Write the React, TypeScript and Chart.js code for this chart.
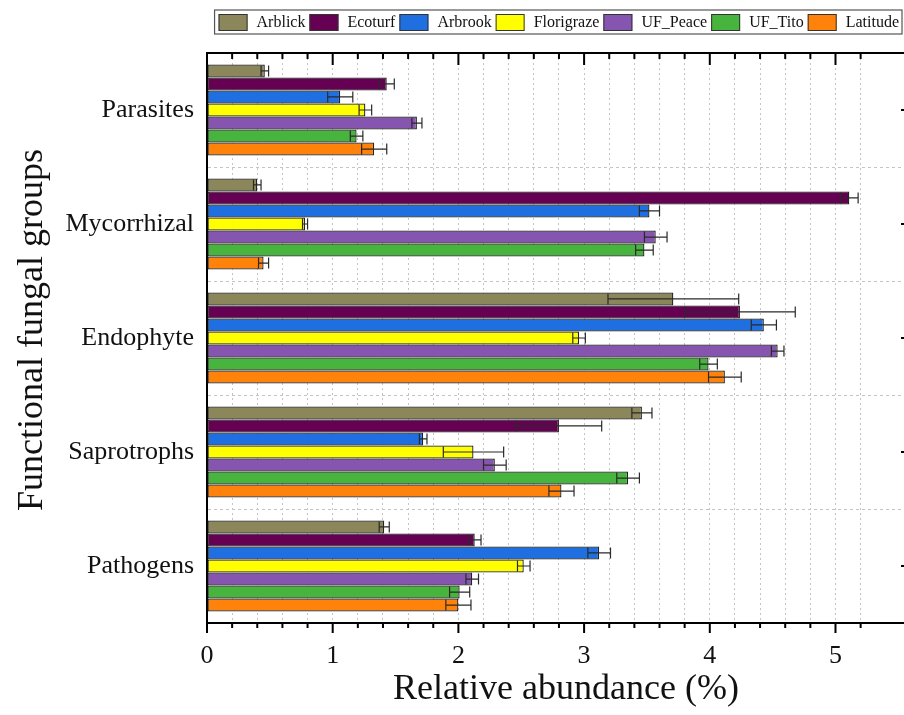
import React, { useEffect, useRef } from "react";
import { Chart, registerables } from "chart.js";

Chart.register(...registerables);

const categories = ["Parasites", "Mycorrhizal", "Endophyte", "Saprotrophs", "Pathogens"];
const seriesNames = ["Arblick", "Ecoturf", "Arbrook", "Florigraze", "UF_Peace", "UF_Tito", "Latitude"];
const seriesColors = ["#8b875a", "#650052", "#1f6fe0", "#ffff00", "#8655b0", "#47b43e", "#ff820a"];

const arblick = [0.46, 0.40, 3.71, 3.46, 1.41];
const arblickErr = [0.03, 0.03, 0.52, 0.08, 0.04];
const ecoturf = [1.43, 5.11, 4.24, 2.80, 2.13];
const ecoturfErr = [0.06, 0.07, 0.44, 0.34, 0.05];
const arbrook = [1.06, 3.52, 4.43, 1.72, 3.12];
const arbrookErr = [0.10, 0.08, 0.10, 0.03, 0.09];
const florigraze = [1.26, 0.78, 2.96, 2.12, 2.52];
const florigrazeErr = [0.05, 0.02, 0.05, 0.24, 0.05];
const ufPeace = [1.67, 3.57, 4.54, 2.29, 2.11];
const ufPeaceErr = [0.04, 0.09, 0.05, 0.09, 0.05];
const ufTito = [1.19, 3.48, 3.99, 3.35, 2.01];
const ufTitoErr = [0.05, 0.07, 0.07, 0.09, 0.08];
const latitude = [1.33, 0.45, 4.12, 2.82, 2.00];
const latitudeErr = [0.10, 0.04, 0.13, 0.10, 0.10];

const seriesValues = [arblick, ecoturf, arbrook, florigraze, ufPeace, ufTito, latitude];
const seriesErrors = [arblickErr, ecoturfErr, arbrookErr, florigrazeErr, ufPeaceErr, ufTitoErr, latitudeErr];

const xTitle = "Relative abundance (%)";
const yTitle = "Functional fungal groups";
const SERIF = "'Liberation Serif', 'Times New Roman', serif";

const decorPlugin = {
  id: "decor",
  beforeDatasetsDraw(chart: any) {
    const { ctx, chartArea } = chart;
    ctx.save();
    ctx.restore();
  },
  afterDatasetsDraw(chart: any) {
    const ctx = chart.ctx;
    const xs = chart.scales.x;
    ctx.save();
    ctx.strokeStyle = "#2a2a2a";
    ctx.lineWidth = 1.2;
    chart.data.datasets.forEach((ds: any, i: number) => {
      const meta = chart.getDatasetMeta(i);
      meta.data.forEach((el: any, j: number) => {
        const v = ds.data[j];
        const e = ds.errors[j];
        const x1 = xs.getPixelForValue(v - e);
        const x2 = xs.getPixelForValue(v + e);
        const y = el.y;
        const h = el.height / 2 - 1;
        ctx.beginPath();
        ctx.moveTo(x1, y);
        ctx.lineTo(x2, y);
        ctx.moveTo(x1, y - h);
        ctx.lineTo(x1, y + h);
        ctx.moveTo(x2, y - h);
        ctx.lineTo(x2, y + h);
        ctx.stroke();
      });
    });
    ctx.restore();
  },
  afterDraw(chart: any) {
    const { ctx, chartArea } = chart;
    const xs = chart.scales.x;
    const ys = chart.scales.y;
    ctx.save();
    // top frame line
    ctx.strokeStyle = "#000";
    ctx.lineWidth = 2;
    ctx.beginPath();
    ctx.moveTo(chartArea.left - 1, chartArea.top);
    ctx.lineTo(chartArea.right, chartArea.top);
    ctx.stroke();
    // tick marks top (inward) and bottom (outward)
    xs.ticks.forEach((t: any) => {
      const x = xs.getPixelForValue(t.value);
      const major = Math.abs(t.value - Math.round(t.value)) < 1e-6;
      ctx.beginPath();
      ctx.moveTo(x, chartArea.top);
      ctx.lineTo(x, chartArea.top + (major ? 12 : 6));
      ctx.moveTo(x, chartArea.bottom);
      ctx.lineTo(x, chartArea.bottom + (major ? 10 : 5));
      ctx.stroke();
    });
    // right-side ticks at category centers
    categories.forEach((_c, i) => {
      const y = ys.getPixelForValue(i);
      ctx.beginPath();
      ctx.moveTo(chartArea.right - 3, y);
      ctx.lineTo(chartArea.right, y);
      ctx.stroke();
    });
    // axis titles
    ctx.fillStyle = "#111";
    ctx.font = `36px ${SERIF}`;
    ctx.textAlign = "center";
    ctx.textBaseline = "alphabetic";
    ctx.fillText(xTitle, 566, 699);
    ctx.save();
    ctx.translate(42, 330);
    ctx.rotate(-Math.PI / 2);
    ctx.fillText(yTitle, 0, 0);
    ctx.restore();
    // legend
    ctx.font = `16px ${SERIF}`;
    const sw = 29, sh = 17, gapAfterSw = 9, gapAfterText = 4;
    const widths = chart.data.datasets.map((d: any) => ctx.measureText(d.label).width);
    let total = 0;
    widths.forEach((w: number, i: number) => {
      total += sw + gapAfterSw + w + (i < widths.length - 1 ? gapAfterText : 0);
    });
    const endX = 899;
    let x = endX - total;
    ctx.strokeStyle = "#555";
    ctx.lineWidth = 1.2;
    ctx.strokeRect(x - 4, 10, 902 - (x - 4), 24);
    ctx.textAlign = "left";
    ctx.textBaseline = "middle";
    chart.data.datasets.forEach((d: any, i: number) => {
      ctx.fillStyle = d.backgroundColor;
      ctx.fillRect(x, 14, sw, sh);
      ctx.strokeStyle = "#333";
      ctx.lineWidth = 1;
      ctx.strokeRect(x + 0.5, 14.5, sw - 1, sh - 1);
      ctx.fillStyle = "#111";
      ctx.fillText(d.label, x + sw + gapAfterSw, 23);
      x += sw + gapAfterSw + widths[i] + gapAfterText;
    });
    ctx.restore();
  },
};

export default function App() {
  const ref = useRef<HTMLCanvasElement | null>(null);
  useEffect(() => {
    if (!ref.current) return;
    const chart = new Chart(ref.current, {
      type: "bar",
      data: {
        labels: categories,
        datasets: seriesNames.map((name, i) => ({
          label: name,
          data: seriesValues[i],
          errors: seriesErrors[i],
          backgroundColor: seriesColors[i],
          borderColor: "#222",
          borderWidth: 1.3,
          borderSkipped: false,
          categoryPercentage: 0.8,
          barPercentage: 1.0,
        })) as any,
      },
      options: {
        indexAxis: "y",
        animation: false,
        responsive: false,
        devicePixelRatio: 1,
        layout: { padding: { top: 53, right: 0, bottom: 0, left: 0 } },
        plugins: { legend: { display: false }, tooltip: { enabled: false } },
        scales: {
          x: {
            type: "linear",
            min: 0,
            max: 5.545,
            afterBuildTicks: (scale: any) => {
              scale.ticks = scale.ticks.filter(
                (t: any) => Math.abs(t.value / 0.2 - Math.round(t.value / 0.2)) < 1e-6
              );
            },
            afterFit: (scale: any) => {
              scale.height = 92;
            },
            ticks: {
              stepSize: 0.2,
              autoSkip: false,
              maxRotation: 0,
              padding: 18,
              color: "#111",
              font: { family: SERIF, size: 26 },
              callback: (v: any) => {
                const n = Number(v);
                return Math.abs(n - Math.round(n)) < 1e-6 ? String(Math.round(n)) : "";
              },
            },
            grid: { color: "#c4c4c4", lineWidth: 1, drawTicks: false, tickBorderDash: [2, 3] },
            border: { display: true, color: "#000", width: 2, dash: [2, 3] },
          } as any,
          y: {
            type: "category",
            afterFit: (scale: any) => {
              scale.width = 207;
            },
            ticks: {
              padding: 13,
              color: "#111",
              font: { family: SERIF, size: 26 },
            },
            grid: { offset: true, color: "#c4c4c4", lineWidth: 1, drawTicks: false },
            border: { display: true, color: "#000", width: 2, dash: [3, 3] },
          } as any,
        },
      },
      plugins: [decorPlugin],
    } as any);
    return () => chart.destroy();
  }, []);
  return (
    <div style={{ position: "absolute", left: 0, top: 0, width: 904, height: 715, background: "#fff" }}>
      <canvas ref={ref} width={904} height={715} style={{ display: "block" }} />
    </div>
  );
}
